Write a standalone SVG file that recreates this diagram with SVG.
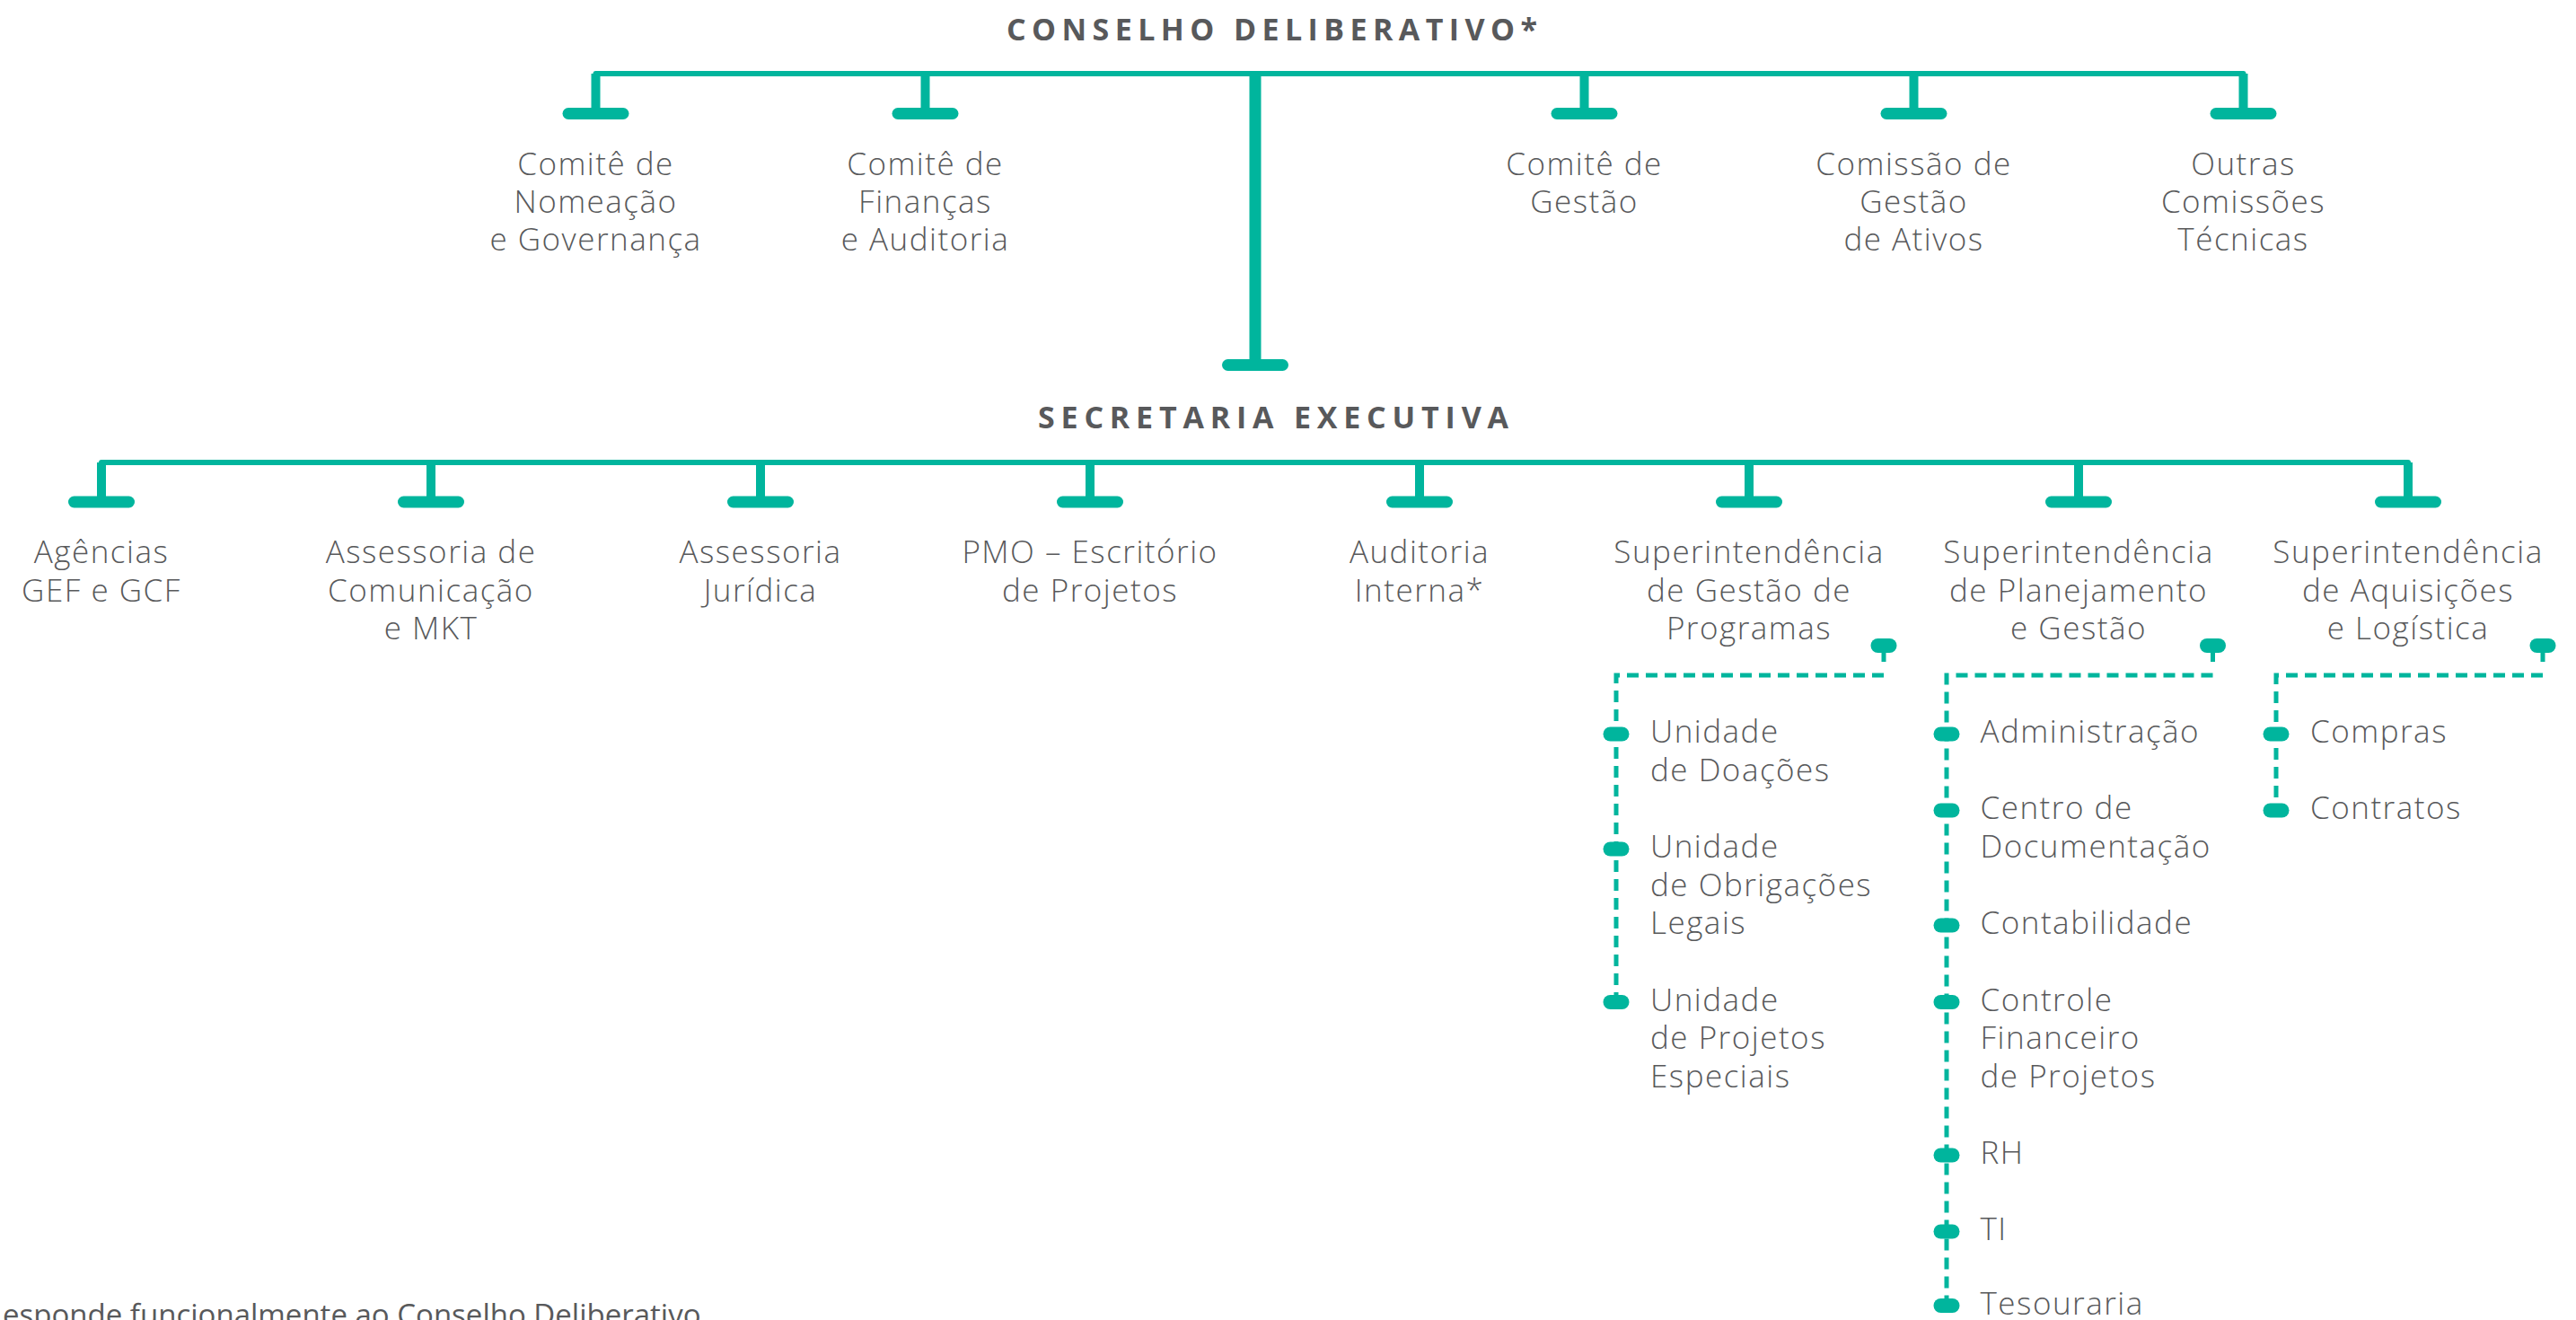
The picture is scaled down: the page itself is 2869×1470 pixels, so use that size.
<svg xmlns="http://www.w3.org/2000/svg" width="2869" height="1470" viewBox="0 0 2869 1470">
<style>
.bg{fill:#ffffff}
.t{font-family:"Open Sans","Liberation Sans",sans-serif;font-size:35px;letter-spacing:1.5px;font-weight:300;fill:#58595b}
.c{text-anchor:middle}
.h{font-family:"Open Sans","Liberation Sans",sans-serif;font-size:34px;font-weight:700;fill:#58595b}
.f{font-family:"Open Sans","Liberation Sans",sans-serif;font-size:33px;font-weight:400;fill:#58595b}
.bar{stroke:#00b59d;stroke-width:6;fill:none;stroke-linejoin:round}
.stem{stroke:#00b59d;stroke-width:10;fill:none}
.trunk{stroke:#00b59d;stroke-width:13;fill:none}
.cap{fill:#00b59d}
.dash{stroke:#00b59d;stroke-width:5;fill:none;stroke-dasharray:13 8}
.thin{stroke:#00b59d;stroke-width:5;fill:none}
</style>
<defs>
<rect id="capT" x="-37" y="-6.5" width="74" height="13" rx="6.5"/>
<rect id="pill" x="-14.5" y="-8" width="29" height="16" rx="8"/>
</defs>
<rect class="bg" x="0" y="0" width="2869" height="1470"/>

<g id="connectors">
  <path class="bar" d="M663.5 92 V82 H2498.5 V92"/>
  <g class="stem">
    <line x1="663.5" y1="82" x2="663.5" y2="127"/>
    <line x1="1030.5" y1="82" x2="1030.5" y2="127"/>
    <line x1="1764.5" y1="82" x2="1764.5" y2="127"/>
    <line x1="2131.5" y1="82" x2="2131.5" y2="127"/>
    <line x1="2498.5" y1="82" x2="2498.5" y2="127"/>
  </g>
  <line class="trunk" x1="1398" y1="82" x2="1398" y2="406"/>
  <g class="cap">
    <use href="#capT" x="663.5" y="126.5"/>
    <use href="#capT" x="1030.5" y="126.5"/>
    <use href="#capT" x="1764.5" y="126.5"/>
    <use href="#capT" x="2131.5" y="126.5"/>
    <use href="#capT" x="2498.5" y="126.5"/>
    <use href="#capT" x="1398" y="406.5"/>
  </g>
  <path class="bar" d="M113 525 V515 H2682 V525"/>
  <g class="stem">
    <line x1="113" y1="515" x2="113" y2="559"/>
    <line x1="480" y1="515" x2="480" y2="559"/>
    <line x1="847" y1="515" x2="847" y2="559"/>
    <line x1="1214" y1="515" x2="1214" y2="559"/>
    <line x1="1581" y1="515" x2="1581" y2="559"/>
    <line x1="1948" y1="515" x2="1948" y2="559"/>
    <line x1="2315" y1="515" x2="2315" y2="559"/>
    <line x1="2682" y1="515" x2="2682" y2="559"/>
  </g>
  <g class="cap">
    <use href="#capT" x="113" y="559"/>
    <use href="#capT" x="480" y="559"/>
    <use href="#capT" x="847" y="559"/>
    <use href="#capT" x="1214" y="559"/>
    <use href="#capT" x="1581" y="559"/>
    <use href="#capT" x="1948" y="559"/>
    <use href="#capT" x="2315" y="559"/>
    <use href="#capT" x="2682" y="559"/>
  </g>
  <line class="thin" x1="2098" y1="719" x2="2098" y2="737"/>
  <path class="dash" d="M2098 752 H1800 V1116"/>
  <line class="thin" x1="2464.5" y1="719" x2="2464.5" y2="737"/>
  <path class="dash" d="M2464.5 752 H2168 V1454"/>
  <line class="thin" x1="2832" y1="719" x2="2832" y2="737"/>
  <path class="dash" d="M2832 752 H2535 V902.5"/>
  <g class="cap">
    <use href="#pill" x="2098" y="719"/>
    <use href="#pill" x="2464.5" y="719"/>
    <use href="#pill" x="2832" y="719"/>
    <use href="#pill" x="1800" y="817.5"/>
    <use href="#pill" x="1800" y="945.5"/>
    <use href="#pill" x="1800" y="1116"/>
    <use href="#pill" x="2168" y="817.5"/>
    <use href="#pill" x="2168" y="902.5"/>
    <use href="#pill" x="2168" y="1030.5"/>
    <use href="#pill" x="2168" y="1116"/>
    <use href="#pill" x="2168" y="1286.5"/>
    <use href="#pill" x="2168" y="1371.5"/>
    <use href="#pill" x="2168" y="1454"/>
    <use href="#pill" x="2535" y="817.5"/>
    <use href="#pill" x="2535" y="902.5"/>
  </g>
</g>

<g id="conselho"><text class="h" x="1121" y="45" textLength="591" lengthAdjust="spacing">CONSELHO DELIBERATIVO*</text></g>
<g id="secretaria"><text class="h" x="1156" y="477" textLength="524" lengthAdjust="spacing">SECRETARIA EXECUTIVA</text></g>

<g id="comite-nomeacao"><text class="t c" x="663.5" y="195">Comitê de</text><text class="t c" x="663.5" y="237">Nomeação</text><text class="t c" x="663.5" y="279">e Governança</text></g>
<g id="comite-financas"><text class="t c" x="1030.5" y="195">Comitê de</text><text class="t c" x="1030.5" y="237">Finanças</text><text class="t c" x="1030.5" y="279">e Auditoria</text></g>
<g id="comite-gestao"><text class="t c" x="1764.5" y="195">Comitê de</text><text class="t c" x="1764.5" y="237">Gestão</text></g>
<g id="comissao-ativos"><text class="t c" x="2131.5" y="195">Comissão de</text><text class="t c" x="2131.5" y="237">Gestão</text><text class="t c" x="2131.5" y="279">de Ativos</text></g>
<g id="outras-comissoes"><text class="t c" x="2498.5" y="195">Outras</text><text class="t c" x="2498.5" y="237">Comissões</text><text class="t c" x="2498.5" y="279">Técnicas</text></g>

<g id="agencias"><text class="t c" x="113" y="627">Agências</text><text class="t c" x="113" y="670">GEF e GCF</text></g>
<g id="assessoria-comunicacao"><text class="t c" x="480" y="627">Assessoria de</text><text class="t c" x="480" y="670">Comunicação</text><text class="t c" x="480" y="712">e MKT</text></g>
<g id="assessoria-juridica"><text class="t c" x="847" y="627">Assessoria</text><text class="t c" x="847" y="670">Jurídica</text></g>
<g id="pmo"><text class="t c" x="1214" y="627">PMO – Escritório</text><text class="t c" x="1214" y="670">de Projetos</text></g>
<g id="auditoria-interna"><text class="t c" x="1581" y="627">Auditoria</text><text class="t c" x="1581" y="670">Interna*</text></g>
<g id="sup-programas"><text class="t c" x="1948" y="627">Superintendência</text><text class="t c" x="1948" y="670">de Gestão de</text><text class="t c" x="1948" y="712">Programas</text></g>
<g id="sup-planejamento"><text class="t c" x="2315" y="627">Superintendência</text><text class="t c" x="2315" y="670">de Planejamento</text><text class="t c" x="2315" y="712">e Gestão</text></g>
<g id="sup-aquisicoes"><text class="t c" x="2682" y="627">Superintendência</text><text class="t c" x="2682" y="670">de Aquisições</text><text class="t c" x="2682" y="712">e Logística</text></g>

<g id="unidade-doacoes"><text class="t" x="1838" y="827">Unidade</text><text class="t" x="1838" y="869.5">de Doações</text></g>
<g id="unidade-obrigacoes"><text class="t" x="1838" y="955">Unidade</text><text class="t" x="1838" y="997.5">de Obrigações</text><text class="t" x="1838" y="1040">Legais</text></g>
<g id="unidade-projetos"><text class="t" x="1838" y="1125.5">Unidade</text><text class="t" x="1838" y="1168">de Projetos</text><text class="t" x="1838" y="1210.5">Especiais</text></g>

<g id="administracao"><text class="t" x="2205.5" y="827">Administração</text></g>
<g id="centro-documentacao"><text class="t" x="2205.5" y="912">Centro de</text><text class="t" x="2205.5" y="954.5">Documentação</text></g>
<g id="contabilidade"><text class="t" x="2205.5" y="1040">Contabilidade</text></g>
<g id="controle-financeiro"><text class="t" x="2205.5" y="1125.5">Controle</text><text class="t" x="2205.5" y="1168">Financeiro</text><text class="t" x="2205.5" y="1210.5">de Projetos</text></g>
<g id="rh"><text class="t" x="2205.5" y="1296">RH</text></g>
<g id="ti"><text class="t" x="2205.5" y="1381">TI</text></g>
<g id="tesouraria"><text class="t" x="2205.5" y="1463.5">Tesouraria</text></g>

<g id="compras"><text class="t" x="2573" y="827">Compras</text></g>
<g id="contratos"><text class="t" x="2573" y="912">Contratos</text></g>

<g id="footnote"><text class="f" x="3" y="1476">esponde funcionalmente ao Conselho Deliberativo</text></g>
</svg>
